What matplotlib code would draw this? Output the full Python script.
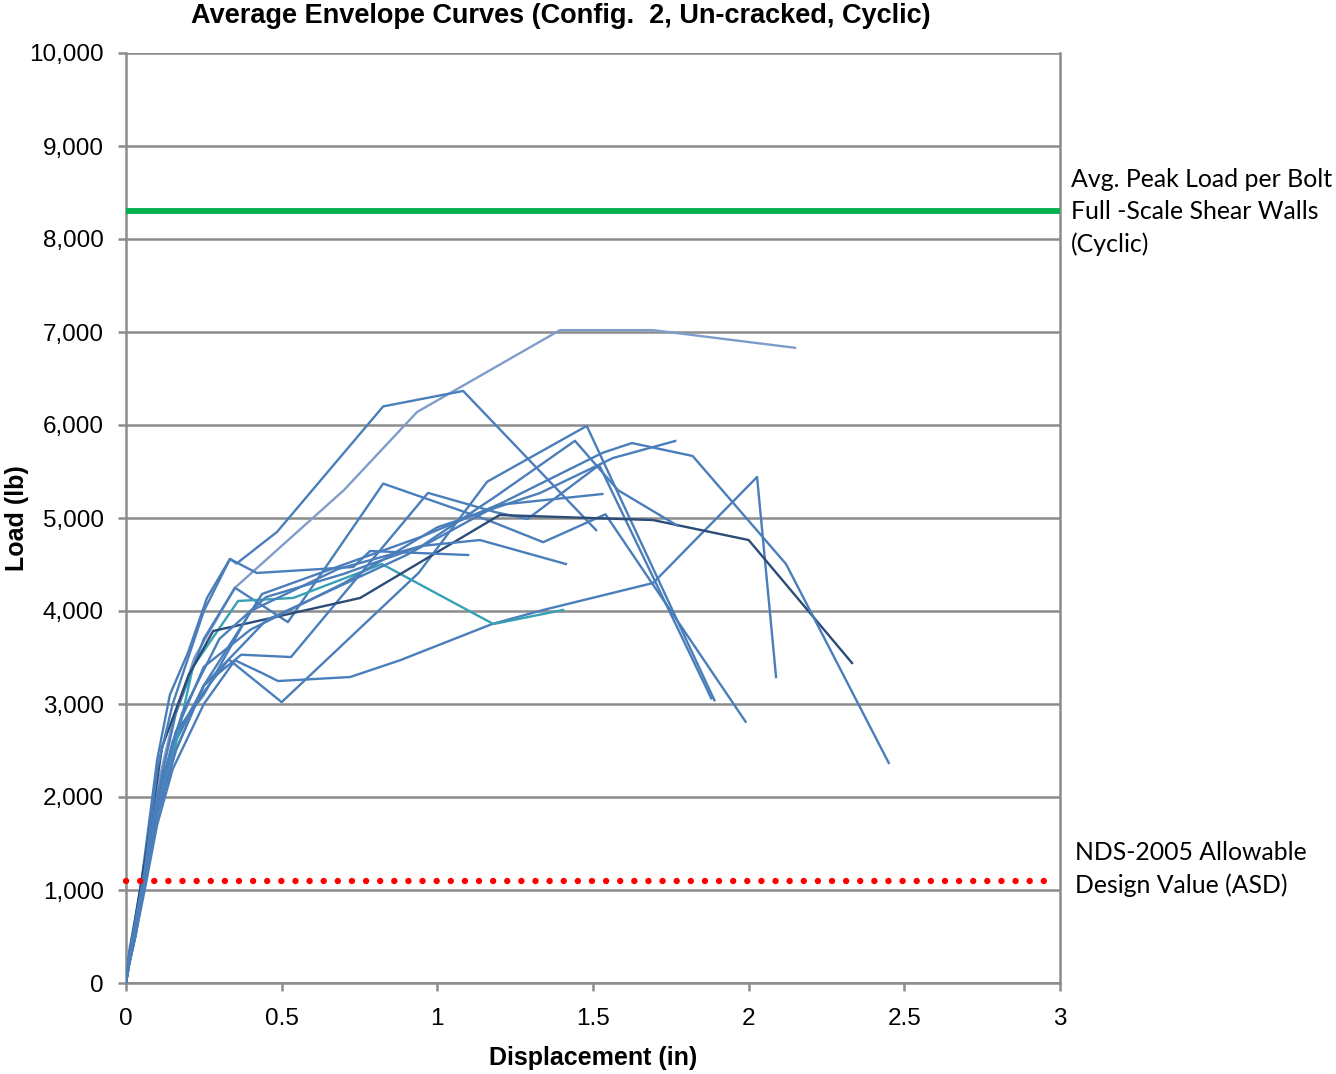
import matplotlib
matplotlib.use("Agg")
import matplotlib.pyplot as plt

plt.rcParams['font.family'] = ['Liberation Sans', 'DejaVu Sans']

# envelope curves, displacement (in) / load (lb)
curves = [
    # light blue, highest one
    ([0, 0.01, 0.03, 0.06, 0.1, 0.15, 0.22, 0.35, 0.7, 0.935, 1.394, 1.693, 2.149],
     [0, 350, 700, 1300, 2100, 2800, 3500, 4250, 5300, 6140, 7020, 7020, 6830], '#7f9ccb'),
    ([0, 0.01, 0.03, 0.05, 0.1, 0.141, 0.2, 0.26, 0.334, 0.355, 0.485, 0.826, 1.083, 1.51],
     [0, 300, 650, 1100, 2400, 3100, 3560, 4140, 4560, 4510, 4850, 6200, 6366, 4870], '#4a7ebb'),
    ([0, 0.01, 0.03, 0.06, 0.1, 0.16, 0.25, 0.35, 0.52, 0.826, 1.16, 1.34, 1.54, 1.99],
     [0, 250, 600, 1200, 2000, 2900, 3700, 4250, 3880, 5370, 4980, 4740, 5040, 2810], '#4a7ebb'),
    ([0, 0.01, 0.03, 0.06, 0.1, 0.16, 0.25, 0.37, 0.53, 0.97, 1.19, 1.29, 1.52, 1.88],
     [0, 200, 500, 1100, 1800, 2600, 3200, 3530, 3505, 5270, 5060, 4990, 5570, 3060], '#4a7ebb'),
    ([0, 0.01, 0.03, 0.06, 0.1, 0.15, 0.22, 0.33, 0.5, 0.94, 1.16, 1.48, 1.89],
     [0, 250, 550, 1100, 1900, 2600, 3000, 3480, 3020, 4410, 5390, 5990, 3040], '#4a7ebb'),
    ([0, 0.01, 0.03, 0.06, 0.1, 0.15, 0.25, 0.35, 0.437, 0.488, 0.72, 0.88, 1.176, 1.34, 1.693, 2.027, 2.088],
     [0, 200, 500, 1000, 1700, 2300, 3000, 3470, 3333, 3247, 3290, 3470, 3860, 4011, 4301, 5441, 3290], '#4a7ebb'),
    # teal one
    ([0, 0.01, 0.03, 0.06, 0.1, 0.151, 0.215, 0.36, 0.537, 0.822, 1.18, 1.404],
     [0, 250, 600, 1100, 1800, 2430, 3400, 4108, 4140, 4505, 3860, 4011], '#35a1b3'),
    # dark navy one
    ([0, 0.01, 0.03, 0.06, 0.116, 0.2, 0.28, 0.752, 1.2, 1.693, 2.0, 2.332],
     [0, 300, 700, 1300, 2538, 3300, 3785, 4140, 5032, 4978, 4763, 3441], '#2b4c76'),
    ([0, 0.01, 0.03, 0.06, 0.1, 0.15, 0.25, 0.334, 0.42, 0.73, 0.784, 1.099],
     [0, 300, 650, 1200, 2300, 3000, 4000, 4559, 4409, 4473, 4645, 4602], '#4a7ebb'),
    ([0, 0.01, 0.03, 0.06, 0.1, 0.16, 0.25, 0.45, 0.9, 1.195, 1.53],
     [0, 200, 500, 1100, 1800, 2500, 3200, 3900, 4600, 5140, 5258], '#4a7ebb'),
    ([0, 0.01, 0.03, 0.06, 0.1, 0.16, 0.25, 0.4, 0.68, 0.95, 1.137, 1.413],
     [0, 250, 550, 1050, 1900, 2700, 3100, 4000, 4450, 4700, 4763, 4505], '#4a7ebb'),
    ([0, 0.01, 0.03, 0.06, 0.1, 0.16, 0.25, 0.4, 0.7, 1.0, 1.33, 1.564, 1.764],
     [0, 250, 600, 1150, 1900, 2700, 3400, 3800, 4300, 4900, 5269, 5645, 5828], '#4a7ebb'),
    ([0, 0.01, 0.03, 0.06, 0.1, 0.16, 0.25, 0.437, 0.7, 0.95, 1.2, 1.53, 1.625, 1.82, 2.12, 2.45],
     [0, 200, 550, 1100, 1800, 2500, 3200, 4183, 4500, 4800, 5150, 5700, 5806, 5667, 4505, 2366], '#4a7ebb'),
    ([0, 0.01, 0.03, 0.06, 0.1, 0.18, 0.3, 0.45, 0.7, 0.95, 1.195, 1.442, 1.58, 1.77],
     [0, 300, 650, 1200, 2000, 2900, 3700, 4150, 4400, 4700, 5250, 5830, 5300, 4920], '#4a7ebb'),
]

peak_load = 8300      # avg peak load per bolt, full-scale walls
nds_allow = 1100      # NDS-2005 ASD value

fig = plt.figure(figsize=(13.36, 10.74), dpi=100)
ax = fig.add_axes([126/1336, 1 - 983/1074, 934/1336, 930/1074])

for xs, ys, c in curves:
    ax.plot(xs, ys, color=c, lw=1.7, zorder=3)

ax.axhline(peak_load, color='#00b050', lw=4.2, zorder=4)
ax.plot([0, 2.95], [nds_allow, nds_allow], color='#ff0000', lw=4.6, ls=(0, (0.01, 2.2)),
        dash_capstyle='round', zorder=4, clip_on=False)

ax.set_xlim(0, 3)
ax.set_ylim(0, 10000)
ax.set_xticks([0, 0.5, 1, 1.5, 2, 2.5, 3])
ax.set_xticklabels(['0', '0.5', '1', '1.5', '2', '2.5', '3'])
ax.set_yticks(range(0, 10001, 1000))
ax.set_yticklabels([f'{v:,}' for v in range(0, 10001, 1000)])
ax.yaxis.grid(True, color='#8c8c8c', lw=1.8, zorder=1)
ax.set_axisbelow(True)
for s in ['left', 'bottom', 'right']:
    ax.spines[s].set_color('#8c8c8c')
    ax.spines[s].set_linewidth(1.8)
ax.spines['top'].set_visible(False)
ax.tick_params(axis='both', colors='#8c8c8c', labelcolor='black', labelsize=17.5,
               width=1.8, length=6)
ax.tick_params(axis='x', pad=12)
ax.tick_params(axis='y', pad=10)

ax.set_xlabel('Displacement (in)', fontsize=18, fontweight='bold')
ax.set_ylabel('Load (lb)', fontsize=18, fontweight='bold')
ax.xaxis.set_label_coords(0.5, (983 - 1058) / 930)
ax.yaxis.set_label_coords((17 - 126) / 934, 0.5)
ax.xaxis.label.set_va('center')
ax.yaxis.label.set_va('center')

fig.text(561/1336, 1 - 16/1074, 'Average Envelope Curves (Config.  2, Un-cracked, Cyclic)',
         fontsize=19.5, fontweight='bold', ha='center', va='center')

fig.text(1071/1336, 1 - 212/1074, 'Avg. Peak Load per Bolt\nFull -Scale Shear Walls\n(Cyclic)',
         fontsize=17.9, family='Lato', va='center', linespacing=1.5)
fig.text(1075/1336, 1 - 869/1074, 'NDS-2005 Allowable\nDesign Value (ASD)',
         fontsize=17.8, family='Lato', va='center', linespacing=1.5)

fig.savefig('out.png', dpi=100)
